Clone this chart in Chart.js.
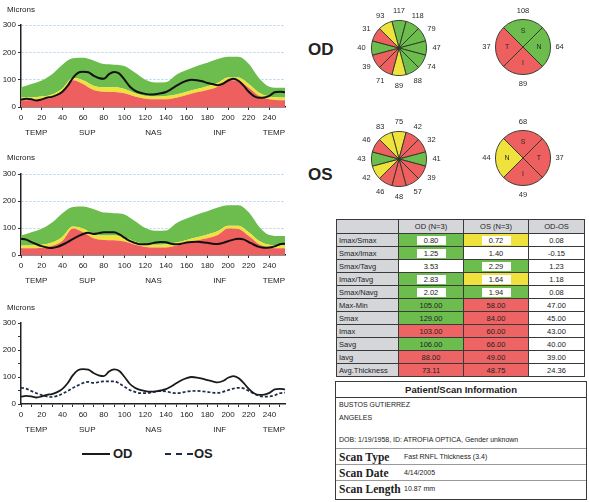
<!DOCTYPE html>
<html>
<head>
<meta charset="utf-8">
<title>RNFL Thickness Report</title>
<script src="https://cdn.jsdelivr.net/npm/chart.js@4.4.1/dist/chart.umd.min.js"></script>
<style>
  html, body { margin: 0; padding: 0; background: #fff; }
  body { width: 589px; height: 502px; position: relative; overflow: hidden;
         font-family: "Liberation Sans", Arial, sans-serif; color: #222; }
  canvas { position: absolute; }
  .eye { position: absolute; font-weight: bold; font-size: 17px; color: #222; }
  #legend { position: absolute; left: 82px; top: 446px; height: 16px; font-weight: bold; font-size: 13px; }
  #legend span { position: absolute; top: 0; line-height: 16px; }
  #legend i { position: absolute; top: 7px; height: 0; }
  table#tbl { position: absolute; left: 336px; top: 219px; border-collapse: collapse;
              table-layout: fixed; font-size: 7.5px; color: #222; }
  #tbl td { border: 1px solid #3a3a3a; padding: 0; text-align: center; height: 12px; line-height: 11px;
            white-space: nowrap; overflow: hidden; }
  #tbl tr.head td { height: 13px; background: #d5d6da; }
  #tbl td.name { text-align: left; padding-left: 2px; background: #d5d6da; }
  #tbl td.g { background: #6cbd4e; }
  #tbl td.y { background: #f0e23c; }
  #tbl td.r { background: #ee6464; }
  #tbl td.w { background: #fff; }
  #tbl td b { display: inline-block; font-weight: normal; background: #fff; width: 29px; height: 9px; line-height: 9px; vertical-align: middle; }
  #info { position: absolute; left: 335px; top: 381px; width: 250px; height: 117px; border: 1px solid #3a3a3a; font-size: 7px; }
  #info .hd { position: absolute; left: 0; top: 0; width: 250px; height: 15px; line-height: 15px; border-bottom: 1px solid #3a3a3a;
              text-align: center; font-weight: bold; font-size: 9.5px; }
  #info .ln { position: absolute; left: 3px; }
  #info .row { position: absolute; left: 0; width: 250px; height: 16px; border-top: 1px solid #9a9a9a; }
  #info .row .k { position: absolute; left: 3px; top: 0; line-height: 16px; font-family: "Liberation Serif", "Times New Roman", serif;
                  font-weight: bold; font-size: 11.5px; }
  #info .row .v { position: absolute; left: 68px; top: 0; line-height: 16px; font-size: 7px; }
</style>
</head>
<body>

<canvas id="odTrace" width="295" height="142" style="left:0;top:0"></canvas>
<canvas id="osTrace" width="295" height="142" style="left:0;top:150px"></canvas>
<canvas id="bothTrace" width="295" height="145" style="left:0;top:295px"></canvas>

<div id="legend">
  <i style="left:0;width:28px;border-top:2px solid #1a1a1a"></i><span style="left:31px">OD</span>
  <i style="left:83px;width:28px;border-top:2px dashed #1d2b4a"></i><span style="left:112px">OS</span>
</div>

<div class="eye" style="left:308px;top:40px">OD</div>
<div class="eye" style="left:308px;top:165px">OS</div>

<canvas id="odClock" width="100" height="100" style="left:349px;top:-2px"></canvas>
<canvas id="odQuad" width="100" height="100" style="left:473px;top:-3px"></canvas>
<canvas id="osClock" width="100" height="100" style="left:349px;top:109px"></canvas>
<canvas id="osQuad" width="100" height="100" style="left:473px;top:108px"></canvas>

<table id="tbl"></table>

<div id="info">
  <div class="hd">Patient/Scan Information</div>
  <div class="ln" style="top:19px">BUSTOS GUTIERREZ</div>
  <div class="ln" style="top:32px">ANGELES</div>
  <div class="ln" style="top:54px">DOB: 1/19/1958, ID: ATROFIA OPTICA, Gender unknown</div>
  <div class="row" style="top:66px"><span class="k">Scan Type</span><span class="v">Fast RNFL Thickness (3.4)</span></div>
  <div class="row" style="top:82px"><span class="k">Scan Date</span><span class="v">4/14/2005</span></div>
  <div class="row" style="top:98px"><span class="k">Scan Length</span><span class="v">10.87 mm</span></div>
</div>

<script>
// ---- TSNIT profile: sample positions (0..255) and thickness in microns ----
const bandPos = [0,10,20,30,40,50,60,70,80,90,100,110,120,130,140,150,160,170,180,190,200,210,220,230,240,250,255];
const norm01  = [25,25,27,34,52,98,84,62,56,55,50,38,30,28,28,34,44,54,62,74,98,96,70,40,28,25,25];
const norm05  = [35,35,38,46,68,106,98,78,72,72,66,50,40,38,40,46,56,66,76,88,108,108,84,52,38,35,35];
const norm95  = [72,84,97,120,155,178,180,170,157,155,150,126,100,90,91,118,135,150,162,176,184,184,158,105,74,70,70];

const tracePos = [0,5,10,15,20,25,30,35,40,45,50,55,60,65,70,75,80,85,90,95,100,105,110,115,120,125,
                  130,135,140,145,150,155,160,165,170,175,180,185,190,195,200,205,210,215,220,225,230,235,240,245,250,255];
const odThickness = [27,30,28,24,28,34,37,44,56,77,106,125,129,127,115,106,103,120,128,122,100,75,60,52,48,46,
                     47,50,55,65,77,88,96,100,98,94,88,84,80,85,97,103,96,78,56,40,34,35,41,54,56,54];
const osThickness = [60,57,48,40,33,28,26,30,38,48,59,69,78,82,78,81,84,84,84,76,64,52,45,40,40,42,
                     46,48,47,42,40,42,46,48,49,47,45,42,41,45,51,57,60,58,48,38,30,27,28,32,40,42];

const xTickValues = [0,20,40,60,80,100,120,140,160,180,200,220,240];
const xMinorTickValues = [0,10,20,30,40,50,60,70,80,90,100,110,120,130,140,150,160,170,180,190,200,210,220,230,240,250];
const yTickValues = [0,100,200,300];
const yMinorTickValues = [0,50,100,150,200,250,300];
const regionNames = ['TEMP','SUP','NAS','INF','TEMP'];
const regionPos = [0,64,128,192,255];

// ---- Clock hours (12, 1, 2 ... 11) and quadrants ----
const clockHours = ['12','1','2','3','4','5','6','7','8','9','10','11'];
const odClock      = [117,118,79,47,74,88,89,71,39,40,31,93];
const odClockClass = ['g','g','g','g','g','g','y','r','r','g','r','y'];
const osClock      = [75,42,32,41,39,57,48,46,42,43,46,83];
const osClockClass = ['y','r','r','g','r','r','r','r','y','g','r','y'];

const odQuadNames  = ['S','N','I','T'];
const odQuadValues = [108,64,89,37];
const odQuadClass  = ['g','g','r','r'];
const osQuadNames  = ['S','T','I','N'];
const osQuadValues = [68,37,49,44];
const osQuadClass  = ['r','r','r','y'];

// ---- Summary parameters ----
const paramNames = ['Imax/Smax','Smax/Imax','Smax/Tavg','Imax/Tavg','Smax/Navg','Max-Min','Smax','Imax','Savg','Iavg','Avg.Thickness'];
const odParams   = ['0.80','1.25','3.53','2.83','2.02','105.00','129.00','103.00','106.00','88.00','73.11'];
const osParams   = ['0.72','1.40','2.29','1.64','1.94','58.00','84.00','60.00','66.00','49.00','48.75'];
const diffParams = ['0.08','-0.15','1.23','1.18','0.08','47.00','45.00','43.00','40.00','39.00','24.36'];
const odParamClass = ['gi','gi','w','gi','gi','g','g','r','g','r','r'];
const osParamClass = ['yi','w','gi','yi','gi','r','r','r','r','r','r'];

const palette = { g: '#6cbd4e', y: '#f0e23c', r: '#ee5f5f' };
const FAMILY = '"Liberation Sans", Arial, sans-serif';

// Text around the trace plots: unit label and TSNIT region names.
const traceText = {
  id: 'traceText',
  afterDraw(chart, args, opts) {
    const { ctx, chartArea, scales } = chart;
    ctx.save();
    ctx.fillStyle = '#222';
    ctx.font = '8px ' + FAMILY;
    ctx.textBaseline = 'middle';
    ctx.textAlign = 'left';
    ctx.fillText('Microns', 7, opts.micronsY);
    regionNames.forEach((name, i) => {
      let x = scales.x.getPixelForValue(regionPos[i]);
      if (i === 0) { ctx.textAlign = 'left'; x += 4; }
      else if (i === regionNames.length - 1) { ctx.textAlign = 'right'; }
      else { ctx.textAlign = 'center'; }
      ctx.fillText(name, x, chartArea.bottom + opts.regionGap);
    });
    ctx.restore();
  }
};

function pts(xs, ys) { return xs.map((x, i) => ({ x, y: ys[i] })); }

// Thickness line first so it is painted above the normative bands.
function withBands(line) {
  const base = { pointRadius: 0, borderWidth: 0, cubicInterpolationMode: 'monotone' };
  return [
    line,
    Object.assign({ data: pts(bandPos, norm01), fill: 'origin', backgroundColor: palette.r, borderColor: palette.r }, base),
    Object.assign({ data: pts(bandPos, norm05), fill: '-1', backgroundColor: palette.y, borderColor: palette.y }, base),
    Object.assign({ data: pts(bandPos, norm95), fill: '-1', backgroundColor: palette.g, borderColor: palette.g }, base)
  ];
}

function traceChart(id, datasets, cfg) {
  return new Chart(document.getElementById(id), {
    type: 'line',
    data: { datasets },
    options: {
      responsive: false, animation: false, devicePixelRatio: 1,
      layout: { padding: { top: cfg.top, right: 10, left: 0, bottom: 0 } },
      elements: { point: { radius: 0 } },
      plugins: { legend: { display: false }, tooltip: { enabled: false },
                 traceText: { micronsY: cfg.micronsY, regionGap: 26 } },
      scales: {
        x: {
          type: 'linear', min: 0, max: 255,
          afterBuildTicks: s => { s.ticks = cfg.xTicks.map(v => ({ value: v })); },
          afterFit: s => { s.height = cfg.xh; },
          ticks: { autoSkip: false, maxRotation: 0, padding: 3, color: '#222', font: { size: 8, family: FAMILY },
                   callback: v => (v % 20 === 0 ? String(v) : '') },
          grid: { drawOnChartArea: false, tickLength: 3, color: '#333', tickColor: '#333' },
          border: { color: '#222', width: 1.5 }
        },
        y: {
          type: 'linear', min: 0, max: 300,
          afterBuildTicks: s => { s.ticks = cfg.yTicks.map(v => ({ value: v })); },
          afterFit: s => { s.width = 21; },
          ticks: { padding: 2, color: '#222', font: { size: 8, family: FAMILY },
                   callback: v => (v % 100 === 0 ? String(v) : '') },
          grid: { drawOnChartArea: cfg.grid, tickLength: 3, tickColor: '#333',
                  color: c => (c.tick && c.tick.value === 0 ? 'rgba(0,0,0,0)' : 'rgba(120,170,225,0.55)') },
          border: { color: '#222', width: 1.5, dash: [2, 2] }
        }
      }
    },
    plugins: [traceText]
  });
}

traceChart('odTrace', withBands({
  data: pts(tracePos, odThickness), borderColor: '#111', borderWidth: 2, fill: false, pointRadius: 0, cubicInterpolationMode: 'monotone'
}), { top: 25, xh: 35, micronsY: 10, grid: true, xTicks: xTickValues, yTicks: yTickValues });

traceChart('osTrace', withBands({
  data: pts(tracePos, osThickness), borderColor: '#111', borderWidth: 2, fill: false, pointRadius: 0, cubicInterpolationMode: 'monotone'
}), { top: 24, xh: 37, micronsY: 8, grid: true, xTicks: xTickValues, yTicks: yTickValues });

traceChart('bothTrace', [
  { data: pts(tracePos, odThickness), borderColor: '#1a1a1a', borderWidth: 1.8, fill: false, pointRadius: 0, cubicInterpolationMode: 'monotone' },
  { data: pts(tracePos, osThickness), borderColor: '#1d2b4a', borderWidth: 1.7, borderDash: [3, 2], fill: false, pointRadius: 0, cubicInterpolationMode: 'monotone' }
], { top: 28, xh: 36, micronsY: 13, grid: false, xTicks: xMinorTickValues, yTicks: yMinorTickValues });

// Values printed around a sector chart, plus optional letters inside.
const ringText = {
  id: 'ringText',
  afterDraw(chart, args, opts) {
    const arc = chart.getDatasetMeta(0).data[0];
    const { x, y, outerRadius } = arc.getProps(['x', 'y', 'outerRadius'], true);
    const ctx = chart.ctx;
    const n = opts.values.length;
    ctx.save();
    ctx.fillStyle = '#2a2a2a';
    ctx.textAlign = 'center';
    ctx.textBaseline = 'middle';
    ctx.font = '7.5px ' + FAMILY;
    opts.values.forEach((v, i) => {
      const a = (-90 + i * 360 / n) * Math.PI / 180;
      ctx.fillText(String(v), x + Math.cos(a) * (outerRadius + opts.gap), y + Math.sin(a) * (outerRadius + opts.gap));
    });
    if (opts.names) {
      ctx.font = '7px ' + FAMILY;
      opts.names.forEach((t, i) => {
        const a = (-90 + i * 360 / n) * Math.PI / 180;
        ctx.fillText(t, x + Math.cos(a) * outerRadius * 0.58, y + Math.sin(a) * outerRadius * 0.58);
      });
    }
    ctx.restore();
  }
};

function sectorChart(id, labels, values, classes, names, gap) {
  return new Chart(document.getElementById(id), {
    type: 'pie',
    data: {
      labels,
      datasets: [{
        data: labels.map(() => 360 / labels.length),   // equal angular span per sector
        backgroundColor: classes.map(c => palette[c]),
        borderColor: '#2b3526', borderWidth: 0.9
      }]
    },
    options: {
      responsive: false, animation: false, devicePixelRatio: 1,
      rotation: -180 / labels.length,
      layout: { padding: 22 },
      plugins: { legend: { display: false }, tooltip: { enabled: false },
                 ringText: { values, names, gap } }
    },
    plugins: [ringText]
  });
}

sectorChart('odClock', clockHours, odClock, odClockClass, null, 10);
sectorChart('odQuad', odQuadNames, odQuadValues, odQuadClass, odQuadNames, 9);
sectorChart('osClock', clockHours, osClock, osClockClass, null, 10);
sectorChart('osQuad', osQuadNames, osQuadValues, osQuadClass, osQuadNames, 9);

// Summary table
(function buildTable() {
  const t = document.getElementById('tbl');
  const widths = [62, 65, 65, 56];
  const cg = document.createElement('colgroup');
  widths.forEach(w => { const c = document.createElement('col'); c.style.width = w + 'px'; cg.appendChild(c); });
  t.appendChild(cg);
  const head = document.createElement('tr');
  head.className = 'head';
  ['', 'OD (N=3)', 'OS (N=3)', 'OD-OS'].forEach(h => { const td = document.createElement('td'); td.textContent = h; head.appendChild(td); });
  t.appendChild(head);
  function cell(val, cls) {
    const td = document.createElement('td');
    td.className = cls[0];
    if (cls.length > 1) { const b = document.createElement('b'); b.textContent = val; td.appendChild(b); }
    else td.textContent = val;
    return td;
  }
  paramNames.forEach((n, i) => {
    const tr = document.createElement('tr');
    const nm = document.createElement('td'); nm.className = 'name'; nm.textContent = n; tr.appendChild(nm);
    tr.appendChild(cell(odParams[i], odParamClass[i]));
    tr.appendChild(cell(osParams[i], osParamClass[i]));
    tr.appendChild(cell(diffParams[i], 'w'));
    t.appendChild(tr);
  });
})();
</script>
</body>
</html>
